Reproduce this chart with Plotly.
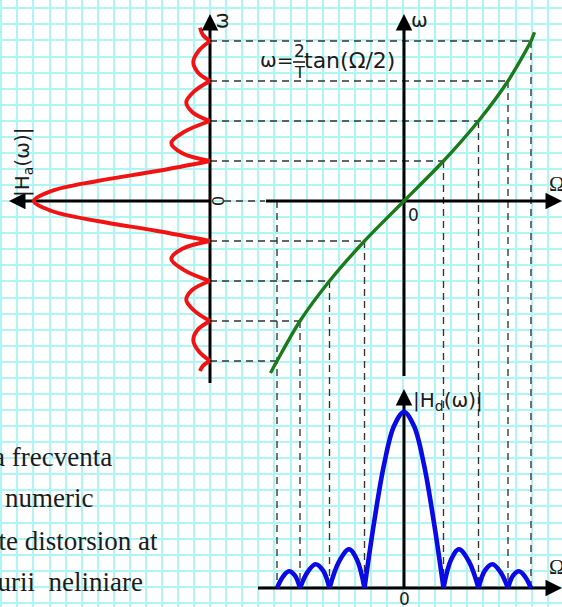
import plotly.graph_objects as go

# ---------------------------------------------------------------- data
# analog-frequency levels (units of the first zero of |Ha|)
omega_levels = [-4, -3, -2, -1, 1, 2, 3, 4]
# digital frequency Ω reached by each level through the tan warping
Omega_levels = [-1.27, -1.04, -0.745, -0.395, 0.395, 0.745, 1.04, 1.27]

# warping curve  ω = (2/T)·tan(Ω/2)
warp_Omega = [-1.335, -1.27, -1.04, -0.745, -0.395, 0.0, 0.395, 0.745, 1.04, 1.27, 1.305]
warp_omega = [-4.3, -4.0, -3.0, -2.0, -1.0, 0.0, 1.0, 2.0, 3.0, 4.0, 4.22]

# analog magnitude |Ha(ω)|, one lobe per segment (None splits lobes)
ha_omega = [-4.25, -4.12, -4.0, None,
            -4.0, -3.75, -3.48, -3.22, -3.0, None,
            -3.0, -2.74, -2.47, -2.22, -2.0, None,
            -2.0, -1.72, -1.45, -1.2, -1.0, None,
            -1.0, -0.75, -0.5, -0.25, 0.0, 0.25, 0.5, 0.75, 1.0, None,
            1.0, 1.2, 1.45, 1.72, 2.0, None,
            2.0, 2.22, 2.47, 2.74, 3.0, None,
            3.0, 3.22, 3.48, 3.75, 4.0, None,
            4.0, 4.15, 4.33]
ha_gain = [0.057, 0.04, 0.0, None,
           0.0, 0.065, 0.095, 0.07, 0.0, None,
           0.0, 0.09, 0.135, 0.10, 0.0, None,
           0.0, 0.15, 0.22, 0.16, 0.0, None,
           0.0, 0.30, 0.64, 0.90, 1.0, 0.90, 0.64, 0.30, 0.0, None,
           0.0, 0.16, 0.22, 0.15, 0.0, None,
           0.0, 0.10, 0.135, 0.09, 0.0, None,
           0.0, 0.07, 0.095, 0.065, 0.0, None,
           0.0, 0.04, 0.057]

# digital magnitude |Hd(Ω)|
hd_Omega = [-1.27, -1.21, -1.15, -1.09, -1.04, None,
            -1.04, -0.965, -0.885, -0.81, -0.745, None,
            -0.745, -0.65, -0.55, -0.47, -0.395, None,
            -0.395, -0.3, -0.2, -0.1, 0.0, 0.1, 0.2, 0.3, 0.395, None,
            0.395, 0.47, 0.55, 0.65, 0.745, None,
            0.745, 0.81, 0.885, 0.965, 1.04, None,
            1.04, 1.09, 1.15, 1.21, 1.27]
hd_gain = [0.0, 0.065, 0.095, 0.07, 0.0, None,
           0.0, 0.09, 0.135, 0.10, 0.0, None,
           0.0, 0.15, 0.22, 0.16, 0.0, None,
           0.0, 0.37, 0.70, 0.92, 1.0, 0.92, 0.70, 0.37, 0.0, None,
           0.0, 0.16, 0.22, 0.15, 0.0, None,
           0.0, 0.10, 0.135, 0.09, 0.0, None,
           0.0, 0.07, 0.095, 0.065, 0.0]

note_lines = ["a frecventa", "numeric", "ste distorsion at", "turii  neliniare"]

# ---------------------------------------------------------------- layout geometry (pixels)
W, H = 562, 607
ORIGIN_X, ORIGIN_Y = 404, 201      # Ω = 0, ω = 0
LEFT_AXIS_X = 210                  # ω axis of the |Ha| panel
BASE_Y = 588                       # Ω axis of the |Hd| panel
PX_OMEGA_D = 100                   # pixels per unit of Ω
PX_OMEGA_A = 40                    # pixels per unit of ω
PX_GAIN = 176                      # pixels per unit of magnitude
GRID_STEP = 16.07

to_Omega = lambda px: (px - ORIGIN_X) / PX_OMEGA_D
to_omega = lambda py: (ORIGIN_Y - py) / PX_OMEGA_A
to_ha = lambda px: (LEFT_AXIS_X - px) / PX_GAIN
to_hd = lambda py: (BASE_Y - py) / PX_GAIN

Omega_left_axis = to_Omega(LEFT_AXIS_X)
omega_baseline = to_omega(BASE_Y)

fig = go.Figure()

# keeps the grid axes alive
fig.add_trace(go.Scatter(x=[None], y=[None], xaxis="x", yaxis="y",
                         showlegend=False, hoverinfo="skip"))

DASH = dict(color="#333333", width=1.35, dash="7px,5px")

# horizontal guides: left ω axis -> warping curve
gx, gy = [], []
for w, W_ in zip(omega_levels, Omega_levels):
    gx += [Omega_left_axis, W_, None]
    gy += [w, w, None]
# guide along ω = 0 between the "0" label and the Ω axis
gx += [to_Omega(224), to_Omega(265), None]
gy += [0, 0, None]
# vertical guides: warping curve -> |Hd| baseline
for w, W_ in zip(omega_levels, Omega_levels):
    top = 0 if w == min(omega_levels) else w
    gx += [W_, W_, None]
    gy += [top, omega_baseline, None]
fig.add_trace(go.Scatter(x=gx, y=gy, mode="lines", line=DASH,
                         xaxis="x2", yaxis="y2", showlegend=False, hoverinfo="skip"))

AX = dict(color="black", width=3)
# axes lines
fig.add_trace(go.Scatter(x=[0, 0], y=[to_omega(383), to_omega(22)], mode="lines", line=AX,
                         xaxis="x3", yaxis="y2", showlegend=False, hoverinfo="skip"))
fig.add_trace(go.Scatter(x=[0, to_ha(18)], y=[0, 0], mode="lines", line=AX,
                         xaxis="x3", yaxis="y2", showlegend=False, hoverinfo="skip"))
fig.add_trace(go.Scatter(x=[0, 0], y=[to_omega(376), to_omega(22)], mode="lines", line=AX,
                         xaxis="x2", yaxis="y2", showlegend=False, hoverinfo="skip"))
fig.add_trace(go.Scatter(x=[to_Omega(266), to_Omega(553)], y=[0, 0], mode="lines", line=AX,
                         xaxis="x2", yaxis="y2", showlegend=False, hoverinfo="skip"))
fig.add_trace(go.Scatter(x=[0, 0], y=[0, to_hd(397)], mode="lines", line=AX,
                         xaxis="x2", yaxis="y3", showlegend=False, hoverinfo="skip"))
fig.add_trace(go.Scatter(x=[to_Omega(258), to_Omega(553)], y=[0, 0], mode="lines", line=AX,
                         xaxis="x2", yaxis="y3", showlegend=False, hoverinfo="skip"))

# curves
fig.add_trace(go.Scatter(x=ha_gain, y=ha_omega, mode="lines",
                         line=dict(color="#f21212", width=3.9, shape="spline", smoothing=1.0),
                         connectgaps=False, xaxis="x3", yaxis="y2",
                         showlegend=False, hoverinfo="skip"))
fig.add_trace(go.Scatter(x=warp_Omega, y=warp_omega, mode="lines",
                         line=dict(color="#1b7a1b", width=3.4, shape="spline", smoothing=0.8),
                         xaxis="x2", yaxis="y2", showlegend=False, hoverinfo="skip"))
fig.add_trace(go.Scatter(x=hd_Omega, y=hd_gain, mode="lines",
                         line=dict(color="#0a0ae6", width=4.6, shape="spline", smoothing=1.0),
                         connectgaps=False, xaxis="x2", yaxis="y3",
                         showlegend=False, hoverinfo="skip"))

annotations = []


def arrow(x, y, xref, yref, dx, dy):
    annotations.append(dict(x=x, y=y, xref=xref, yref=yref, ax=dx, ay=dy,
                            text="", showarrow=True, arrowhead=2, arrowsize=1.1,
                            arrowwidth=3, arrowcolor="black", standoff=0))


arrow(0, to_omega(14), "x3", "y2", 0, 14)          # ω (left panel)
arrow(to_ha(9), 0, "x3", "y2", 14, 0)              # |Ha|
arrow(0, to_omega(14), "x2", "y2", 0, 14)          # ω (warping)
arrow(to_Omega(562), 0, "x2", "y2", -14, 0)        # Ω (warping)
arrow(0, to_hd(389), "x2", "y3", 0, 14)            # |Hd|
arrow(to_Omega(562), 0, "x2", "y3", -14, 0)        # Ω (|Hd|)

SANS = "DejaVu Sans"
SERIF = "Liberation Serif"
INK = "#1c1c1c"


def label(text, x, y, size, family=SANS, angle=0, xanchor="center", yanchor="middle"):
    annotations.append(dict(x=x, y=y, xref="x", yref="y", text=text, showarrow=False,
                            textangle=angle, xanchor=xanchor, yanchor=yanchor,
                            font=dict(family=family, size=size, color=INK)))


label("ω", 221, 21, 20, angle=-90)
label("ω", 419, 20, 20)
label("|H<sub>a</sub>(ω)|", 23, 163, 20, angle=-90)
label("0", 218, 201, 16, angle=-90)
label("0", 413, 215, 17)
label("0", 404, 599, 17)
label("Ω", 547, 184, 21, family=SERIF, xanchor="left")
label("Ω", 547, 567, 21, family=SERIF, xanchor="left")
label("|H<sub>d</sub>(ω)|", 411, 401, 20, xanchor="left")
label("ω=", 277, 60, 20)
label("2", 299, 51, 17)
label("T", 299, 72, 16)
label("tan(Ω/2)", 302, 60, 22, xanchor="left")

note_right = [114, 95, 160, 145]
note_mid = [457, 498, 541, 582]
for txt, xr, ym in zip(note_lines, note_right, note_mid):
    label(txt, xr, ym, 27, family=SERIF, xanchor="right")

shapes = [dict(type="line", xref="x", yref="y", x0=293, x1=305, y0=62, y1=62,
               line=dict(color=INK, width=1.6))]

grid_axis = dict(showgrid=True, gridcolor="#b0f5f5", gridwidth=2, zeroline=False,
                 showticklabels=False, ticks="", showline=False, fixedrange=True)
hidden = dict(visible=False, fixedrange=True)

fig.update_layout(
    width=W, height=H, margin=dict(l=0, r=0, t=0, b=0),
    paper_bgcolor="white", plot_bgcolor="white", showlegend=False,
    xaxis=dict(range=[0, W], tick0=1.3, dtick=GRID_STEP, **grid_axis),
    yaxis=dict(range=[H, 0], tick0=8.3, dtick=GRID_STEP, **grid_axis),
    xaxis2=dict(overlaying="x", anchor="y",
                range=[to_Omega(0), to_Omega(W)], **hidden),
    yaxis2=dict(overlaying="y", anchor="x",
                range=[to_omega(H), to_omega(0)], **hidden),
    xaxis3=dict(overlaying="x", anchor="y",
                range=[to_ha(0), to_ha(W)], **hidden),
    yaxis3=dict(overlaying="y", anchor="x",
                range=[to_hd(H), to_hd(0)], **hidden),
    annotations=annotations, shapes=shapes,
)

fig.write_html("out.html")
